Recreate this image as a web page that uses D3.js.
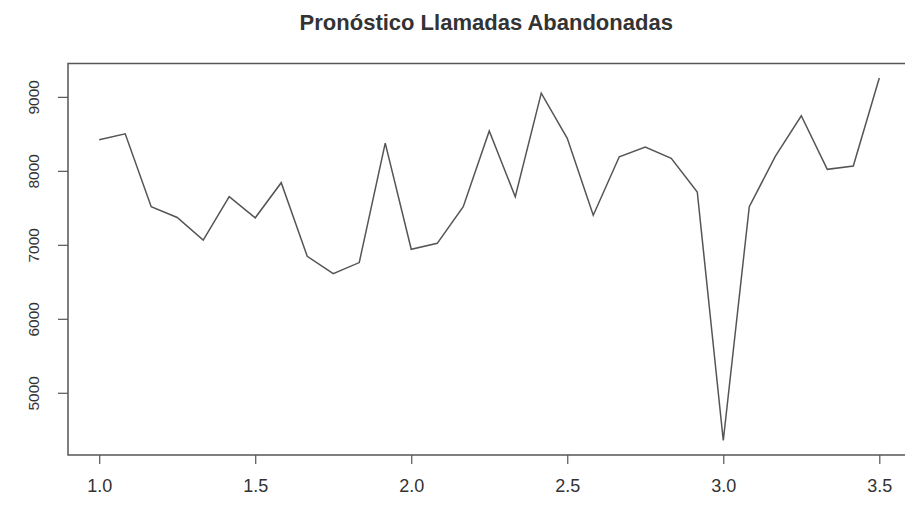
<!DOCTYPE html>
<html>
<head>
<meta charset="utf-8">
<script src="https://cdn.jsdelivr.net/npm/d3@7"></script>
<style>
  html, body { margin: 0; padding: 0; background: #fff; }
  svg { display: block; }
  text { font-family: "Liberation Sans", Arial, sans-serif; fill: #333; }
</style>
</head>
<body>
<svg id="chart" width="905" height="507"></svg>
<script>
// Monthly series, time measured in years (frequency 12), starting at 1.0
const startTime = 1;
const frequency = 12;
const abandonedCalls = [
  8420, 8500, 7515, 7370, 7065, 7650, 7365, 7840, 6845, 6610,
  6760, 8375, 6940, 7020, 7515, 8540, 7650, 9050, 8440, 7400,
  8190, 8320, 8170, 7715, 4355, 7515, 8195, 8745, 8020, 8065,
  9255
];
const xTickValues = [1.0, 1.5, 2.0, 2.5, 3.0, 3.5];
const yTickValues = [5000, 6000, 7000, 8000, 9000];
const chartTitle = "Pronóstico Llamadas Abandonadas";

const svg = d3.select("#chart");

const times = abandonedCalls.map((_, i) => startTime + i / frequency);
const points = abandonedCalls.map((v, i) => ({ t: times[i], v }));

// Extend both ranges by 4% on each side
const [tMin, tMax] = d3.extent(times);
const [vMin, vMax] = d3.extent(abandonedCalls);
const tPad = (tMax - tMin) * 0.04;
const vPad = (vMax - vMin) * 0.04;

const plot = { left: 68, right: 910.5, top: 63.5, bottom: 455 };

const x = d3.scaleLinear()
  .domain([tMin - tPad, tMax + tPad])
  .range([plot.left, plot.right]);
const y = d3.scaleLinear()
  .domain([vMin - vPad, vMax + vPad])
  .range([plot.bottom, plot.top]);

const axisColor = "#555";

// Series line
const line = d3.line().x(d => x(d.t)).y(d => y(d.v));
svg.append("path")
  .datum(points)
  .attr("d", line)
  .attr("fill", "none")
  .attr("stroke", "#555")
  .attr("stroke-width", 1.5)
  .attr("stroke-linejoin", "miter");

// Plot frame
svg.append("rect")
  .attr("x", plot.left)
  .attr("y", plot.top)
  .attr("width", plot.right - plot.left)
  .attr("height", plot.bottom - plot.top)
  .attr("fill", "none")
  .attr("stroke", axisColor)
  .attr("stroke-width", 1.5);

// Bottom axis
const xAxis = d3.axisBottom(x)
  .tickValues(xTickValues)
  .tickFormat(d3.format(".1f"))
  .tickSize(9)
  .tickPadding(15);
const gx = svg.append("g")
  .attr("transform", `translate(0,${plot.bottom})`)
  .call(xAxis);
gx.select(".domain").remove();
gx.selectAll(".tick line").attr("stroke", axisColor).attr("stroke-width", 1.2);
gx.selectAll(".tick text")
  .attr("font-size", 18)
  .attr("font-family", "Liberation Sans, Arial, sans-serif")
  .attr("fill", "#333");

// Left axis with labels parallel to the axis
const yAxis = d3.axisLeft(y)
  .tickValues(yTickValues)
  .tickFormat(d3.format("d"))
  .tickSize(10);
const gy = svg.append("g")
  .attr("transform", `translate(${plot.left},0)`)
  .call(yAxis);
gy.select(".domain").remove();
gy.selectAll(".tick line").attr("stroke", axisColor).attr("stroke-width", 1.2);
gy.selectAll(".tick text")
  .attr("x", null)
  .attr("dy", null)
  .attr("transform", "translate(-29,0) rotate(-90)")
  .attr("text-anchor", "middle")
  .attr("font-size", 15.5)
  .attr("font-family", "Liberation Sans, Arial, sans-serif")
  .attr("fill", "#333");

// Title centred over the plotting region
svg.append("text")
  .attr("x", (plot.left + plot.right) / 2 - 3)
  .attr("y", 30)
  .attr("text-anchor", "middle")
  .attr("font-size", 22)
  .attr("font-weight", "bold")
  .attr("fill", "#111")
  .text(chartTitle);
</script>
</body>
</html>
